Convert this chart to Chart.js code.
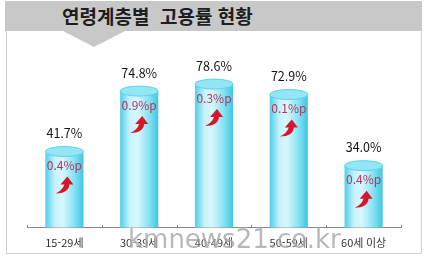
<!DOCTYPE html>
<html lang="ko">
<head>
<meta charset="UTF-8">
<title>연령계층별 고용률 현황</title>
<script src="https://cdn.jsdelivr.net/npm/chart.js"></script>
<style>
    html, body { margin: 0; padding: 0; background: #fff; }
    body { width: 430px; height: 258px; position: relative; overflow: hidden; font-family: "Noto Sans CJK KR", sans-serif; }
    .panel { position: absolute; left: 6px; top: 30px; width: 414px; height: 222px; border: 1px solid #d0d0d0; background: #fff; }
    .header { position: absolute; left: 5px; top: 1px; width: 417px; height: 30px; background: #c8c8c8; }
    .header h1 { margin: 0; position: absolute; left: 57px; top: 2px; font-size: 19px; line-height: 26px; font-weight: bold; color: #1e1e1e; white-space: pre; }
    .notch { position: absolute; left: 63px; top: 31px; width: 0; height: 0; border-left: 31px solid transparent; border-right: 31px solid transparent; border-top: 16px solid #c8c8c8; }
    canvas { position: absolute; left: 0; top: 0; }
    .mark { position: absolute; left: 128px; top: 224px; font-family: "DejaVu Sans", sans-serif; font-size: 26px; color: rgba(85,85,85,0.42); text-shadow: 0 0 2px rgba(255,255,255,0.9); white-space: nowrap; }
</style>
</head>
<body>
    <div class="panel"></div>
    <div class="header"><h1>연령계층별  고용률 현황</h1></div>
    <div class="notch"></div>
    <canvas id="chart" width="430" height="258"></canvas>
    <div class="mark">kmnews21.co.kr</div>

<script>
// 연령대
const ageGroups = ["15-29세", "30-39세", "40-49세", "50-59세", "60세 이상"];
// 고용률 (%)
const rates = [41.7, 74.8, 78.6, 72.9, 34.0];
// 전년 대비 증감 (%p)
const changes = [0.4, 0.9, 0.3, 0.1, 0.4];

const barRatio = 0.51;

// 막대 가로 그라데이션 (원통 느낌)
function cylinderFill(context) {
    const chart = context.chart;
    const xScale = chart.scales.x;
    if (!chart.chartArea || !xScale) return '#7adcf0';
    const cx = xScale.getPixelForValue(context.dataIndex);
    const half = xScale.width / ageGroups.length * barRatio / 2;
    const g = chart.ctx.createLinearGradient(cx - half, 0, cx + half, 0);
    g.addColorStop(0, '#4fcfe9');
    g.addColorStop(0.25, '#c6f2fb');
    g.addColorStop(0.45, '#d8f7fc');
    g.addColorStop(0.75, '#88e2f3');
    g.addColorStop(1, '#3fc6e4');
    return g;
}

// 빨간 상승 화살표
function drawArrow(ctx, cx, cy) {
    ctx.save();
    ctx.translate(cx, cy);
    ctx.fillStyle = '#d8162a';
    ctx.beginPath();
    ctx.moveTo(-9, 8);
    ctx.quadraticCurveTo(-2, 5, 0, -1);
    ctx.lineTo(-4, -1);
    ctx.lineTo(3, -9);
    ctx.lineTo(9, -1);
    ctx.lineTo(5, -1);
    ctx.quadraticCurveTo(4, 8, -9, 8);
    ctx.fill();
    ctx.restore();
}

const cylinderPlugin = {
    id: 'cylinder',
    afterDatasetsDraw(chart) {
        const ctx = chart.ctx;
        const xScale = chart.scales.x;
        const bottom = chart.chartArea.bottom;
        const step = xScale.width / ageGroups.length;
        // 축 위쪽 눈금
        ctx.save();
        ctx.strokeStyle = '#888';
        ctx.lineWidth = 1;
        for (let i = 0; i <= ageGroups.length; i++) {
            const tx = Math.round(xScale.left + step * i) + 0.5;
            ctx.beginPath();
            ctx.moveTo(tx, bottom - 3);
            ctx.lineTo(tx, bottom);
            ctx.stroke();
        }
        ctx.restore();

        chart.getDatasetMeta(0).data.forEach((bar, i) => {
            const x = bar.x, y = bar.y, w = bar.width;
            ctx.save();
            // 원통 윗면
            ctx.beginPath();
            ctx.ellipse(x, y, w / 2, 5, 0, 0, Math.PI * 2);
            ctx.fillStyle = '#94e6f5';
            ctx.fill();
            ctx.strokeStyle = '#5cd2ec';
            ctx.lineWidth = 1;
            ctx.stroke();
            // 고용률
            ctx.textAlign = 'center';
            ctx.textBaseline = 'middle';
            ctx.fillStyle = '#151515';
            ctx.font = '12.5px "Noto Sans CJK KR"';
            ctx.fillText(rates[i].toFixed(1) + '%', x, y - 18);
            // 증감
            ctx.fillStyle = '#b2365e';
            ctx.font = '12px "Noto Sans CJK KR"';
            ctx.fillText(changes[i].toFixed(1) + '%p', x, y + 14);
            drawArrow(ctx, x, y + 34);
            ctx.restore();
        });
    }
};

new Chart(document.getElementById('chart'), {
    type: 'bar',
    data: {
        labels: ageGroups,
        datasets: [{
            data: rates,
            backgroundColor: cylinderFill,
            borderWidth: 0,
            categoryPercentage: 1,
            barPercentage: barRatio
        }]
    },
    options: {
        responsive: false,
        animation: false,
        events: [],
        layout: { padding: { left: 27, right: 29, top: 45, bottom: 9 } },
        plugins: { legend: { display: false }, tooltip: { enabled: false } },
        scales: {
            y: { display: false, min: 0, max: 100 },
            x: {
                border: { display: true, color: '#888', width: 1 },
                grid: { display: false },
                ticks: { color: '#333', padding: 0, font: { family: '"Noto Sans CJK KR"', size: 11 } }
            }
        }
    },
    plugins: [cylinderPlugin]
});
</script>
</body>
</html>
